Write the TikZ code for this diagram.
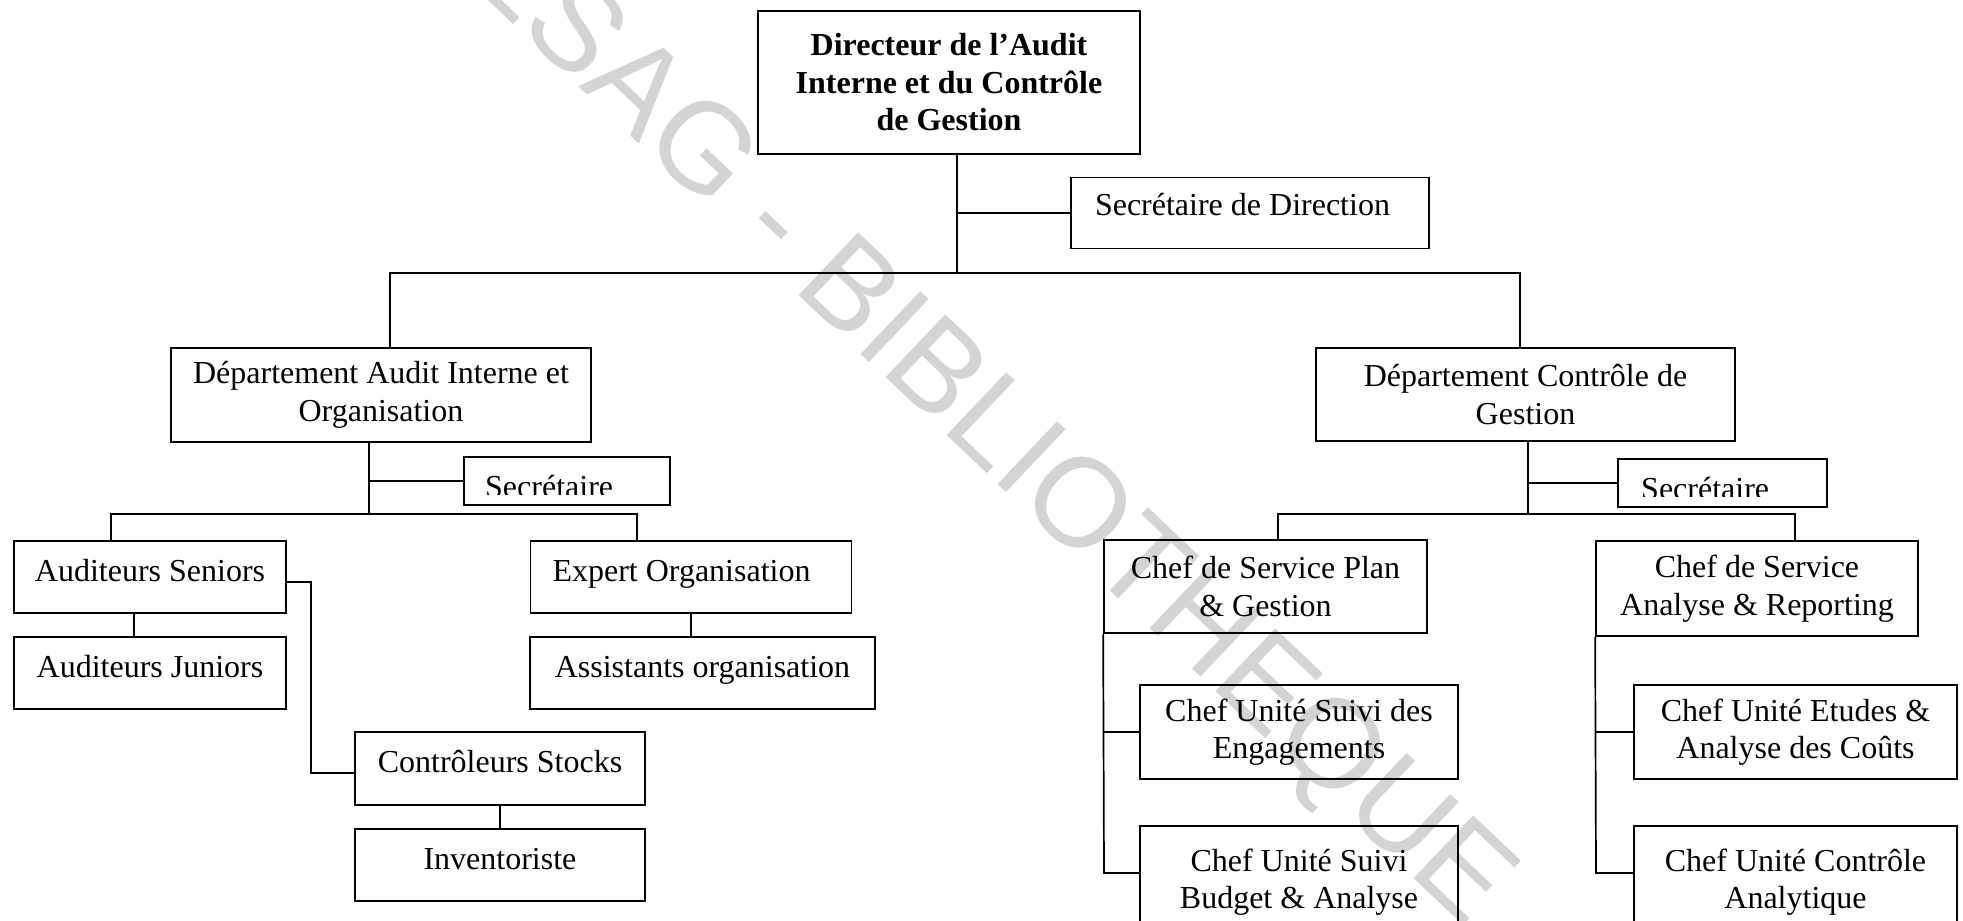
\documentclass[tikz,border=0pt]{standalone}
\usepackage{fontspec}
\setmainfont{Liberation Serif}
\newfontfamily\stampfont{Liberation Sans}
\begin{document}
\begin{tikzpicture}[x=1pt,y=-1pt,
  box/.style={draw, line width=1.7pt, inner sep=0pt, align=center,
    font=\fontsize{32}{37.5}\selectfont},
  oneline/.style={text height=22pt, text depth=14pt},
  link/.style={line width=1.7pt},
  labeltext/.style={inner sep=0pt, anchor=base west, font=\fontsize{32}{37.5}\selectfont},
  stamp/.style={text=black!17, inner sep=0pt, anchor=base, rotate=-43.5,
    font=\stampfont\fontsize{126}{126}\selectfont}
]
\useasboundingbox (0,0) rectangle (1963,921);
\clip (0,0) rectangle (1963,921);

% library stamp across the page
\node[stamp] (stamp) at (929,419) {CESAG - BIBLIOTHEQUE};

% direction
\node[box, minimum width=382pt, minimum height=143pt,
  font=\fontsize{32}{37.5}\selectfont\bfseries] (dir) at (949,82.5)
  {Directeur de l’Audit\\Interne et du Contrôle\\de Gestion};
\node[box, oneline, text depth=17pt, minimum width=358pt, minimum height=71pt,
  align=flush left, text width=310pt, inner xsep=24pt] (secdir) at (1250,213)
  {Secrétaire de Direction};

% departments
\node[box, minimum width=420pt, minimum height=94pt] (dA) at (381,395)
  {Département Audit Interne et\\Organisation};
\node[box, minimum width=419pt, minimum height=93pt] (dC) at (1525.5,394.5)
  {Département Contrôle de\\Gestion};

% department secretaries (text cut by the frame)
\node[box, minimum width=206pt, minimum height=48pt] (secA) at (567,481) {};
\node[box, minimum width=209pt, minimum height=48pt] (secC) at (1722.5,483) {};
\begin{scope}
  \clip (secA.north west) rectangle (670,494);
  \node[labeltext] (secAtext) at (485,497) {Secrétaire};
\end{scope}
\begin{scope}
  \clip (secC.north west) rectangle (1827,496);
  \node[labeltext] (secCtext) at (1641,499) {Secrétaire};
\end{scope}

% audit side
\node[box, oneline, minimum width=272pt, minimum height=72pt] (sen) at (150,577) {Auditeurs Seniors};
\node[box, oneline, minimum width=272pt, minimum height=72pt] (jun) at (150,673) {Auditeurs Juniors};
\node[box, oneline, minimum width=321pt, minimum height=72pt,
  align=flush left, text width=277pt, inner xsep=22pt] (exp) at (691,577) {Expert Organisation};
\node[box, oneline, minimum width=345pt, minimum height=72pt] (asst) at (702.5,673) {Assistants organisation};
\node[box, oneline, minimum width=290pt, minimum height=73pt] (ctrl) at (500,768.5) {Contrôleurs Stocks};
\node[box, oneline, minimum width=290pt, minimum height=72pt] (inv) at (500,865) {Inventoriste};

% management control side
\node[box, minimum width=323pt, minimum height=93pt] (plan) at (1265.5,586.5)
  {Chef de Service Plan\\\& Gestion};
\node[box, minimum width=322pt, minimum height=95pt] (anR) at (1757,588.5)
  {Chef de Service\\Analyse \& Reporting};
\node[box, minimum width=318pt, minimum height=94pt] (eng) at (1299,732)
  {Chef Unité Suivi des\\Engagements};
\node[box, minimum width=323pt, minimum height=94pt] (etu) at (1795.5,732)
  {Chef Unité Etudes \&\\Analyse des Coûts};
\node[box, minimum width=318pt, minimum height=112pt] (bud) at (1299,882)
  {Chef Unité Suivi\\Budget \& Analyse};
\node[box, minimum width=323pt, minimum height=112pt] (ctlA) at (1795.5,882)
  {Chef Unité Contrôle\\Analytique};

% top links
\coordinate (j0) at (957,273);
\draw[link] (dir.south -| j0) -- (j0);
\draw[link] (secdir.west -| j0) -- (secdir.west);
\coordinate (busL) at (390,273);
\coordinate (busR) at (1520,273);
\draw[link] (dA.north -| busL) -- (busL) -- (busR) -- (dC.north -| busR);

% audit links
\coordinate (jA) at (369,514);
\draw[link] (dA.south -| jA) -- (jA);
\draw[link] (secA.west -| jA) -- (secA.west);
\coordinate (subL1) at (111,514);
\coordinate (subL2) at (637,514);
\draw[link] (sen.north -| subL1) -- (subL1) -- (subL2) -- (exp.north -| subL2);
\draw[link] ([xshift=-16pt]sen.south) -- ([xshift=-16pt]jun.north);
\draw[link] (exp.south) -- (exp.south |- asst.north);
\coordinate (e1) at (311,582);
\coordinate (e2) at (311,773);
\draw[link] (sen.east |- e1) -- (e1) -- (e2) -- (ctrl.west |- e2);
\draw[link] (ctrl.south) -- (inv.north);

% management control links
\coordinate (jC) at (1528,514);
\draw[link] (dC.south -| jC) -- (jC);
\draw[link] (secC.west -| jC) -- (secC.west);
\coordinate (subR1) at (1278,514);
\coordinate (subR2) at (1795,514);
\draw[link] (plan.north -| subR1) -- (subR1) -- (subR2) -- (anR.north -| subR2);
\coordinate (sp1) at (1104,873);
\draw[link] (plan.south west) -- (sp1) -- (bud.west |- sp1);
\draw[link] (plan.south west |- eng.west) -- (eng.west);
\coordinate (sp2) at (1596,873);
\draw[link] (anR.south west) -- (sp2) -- (ctlA.west |- sp2);
\draw[link] (anR.south west |- etu.west) -- (etu.west);
\end{tikzpicture}
\end{document}
